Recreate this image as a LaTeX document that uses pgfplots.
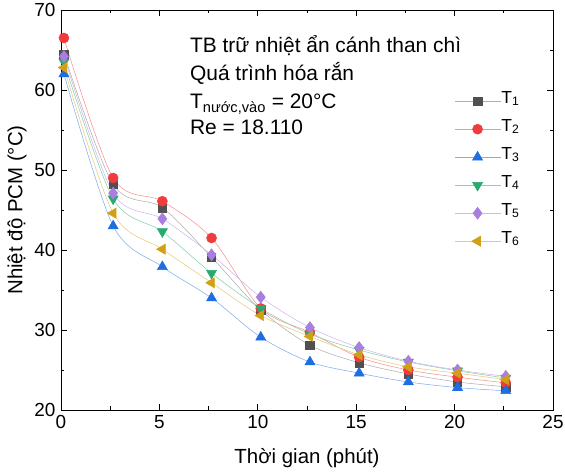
\documentclass[border=0pt]{standalone}
\usepackage{fontspec}
\setmainfont{Liberation Sans}
\usepackage{pgfplots}
\pgfplotsset{compat=1.18}
\definecolor{cA}{RGB}{80,80,80}
\definecolor{cB}{RGB}{240,60,60}
\definecolor{cC}{RGB}{30,110,225}
\definecolor{cD}{RGB}{40,170,110}
\definecolor{cE}{RGB}{170,125,225}
\definecolor{cF}{RGB}{210,160,20}

\begin{document}
\begin{tikzpicture}
\begin{axis}[
  name=ax,
  scale only axis, width=492bp, height=400bp,
  xmin=0, xmax=25, ymin=20, ymax=70,
  xtick={0,5,...,25}, ytick={20,30,...,70},
  minor xtick={2.5,7.5,...,22.5}, minor ytick={25,35,...,65},
  tick align=inside, major tick length=6bp, minor tick length=3.5bp,
  tick style={black, line width=0.8pt},
  axis line style={line width=0.9pt},
  xticklabel style={font=\fontsize{19}{22}\selectfont, yshift=-2bp},
  yticklabel style={font=\fontsize{19}{22}\selectfont, xshift=-2bp},
  /pgf/number format/assume math mode=true,
  xlabel={Thời gian (phút)}, ylabel={Nhiệt độ PCM (°C)},
  label style={font=\fontsize{20.5}{24}\selectfont},
  xlabel style={at={(axis description cs:0.5,-0.12)}, anchor=center},
  ylabel style={at={(axis description cs:-0.0894,0.5)}, anchor=center},
  legend style={at={(rel axis cs:0.80,0.8075)}, anchor=north west, draw=none, fill=none,
    font=\fontsize{17.5}{20}\selectfont, row sep=0pt, inner sep=0pt,
    nodes={inner sep=0pt, text height=16bp, text depth=12bp, xshift=6bp}},
  legend cell align=left,
  legend image code/.code={\draw[mark repeat=2,mark phase=2] plot coordinates {(0bp,0bp)(22.5bp,0bp)(46bp,0bp)};},
  every axis plot/.append style={smooth, line width=0.55pt},
  clip=false,
]
\addplot[color=cA!45, mark=square*, mark size=4.2bp, mark options={fill=cA, draw=cA}] coordinates {
(0.15,64.5) (2.65,48.2) (5.15,45.3) (7.65,39.1) (10.15,32.5) (12.65,28.1) (15.15,25.9) (17.65,24.5) (20.15,23.5) (22.6,22.9)};
\addlegendentry{T\textsubscript{1}}
\addplot[color=cB!55, mark=*, mark size=5bp, mark options={fill=cB, draw=cB}] coordinates {
(0.15,66.5) (2.65,49.0) (5.15,46.1) (7.65,41.5) (10.15,32.7) (12.65,29.7) (15.15,26.6) (17.65,25.0) (20.15,24.1) (22.6,23.4)};
\addlegendentry{T\textsubscript{2}}
\addplot[color=cC!55, mark=triangle*, mark size=5.8bp, mark options={fill=cC, draw=cC}] coordinates {
(0.15,62.0) (2.65,43.0) (5.15,37.9) (7.65,34.0) (10.15,29.1) (12.65,26.0) (15.15,24.6) (17.65,23.5) (20.15,22.8) (22.6,22.4)};
\addlegendentry{T\textsubscript{3}}
\addplot[color=cD!55, mark=triangle*, mark size=5.8bp, mark options={fill=cD, draw=cD, rotate=180}] coordinates {
(0.15,63.5) (2.65,46.4) (5.15,42.3) (7.65,37.1) (10.15,32.7) (12.65,29.5) (15.15,27.5) (17.65,26.0) (20.15,24.9) (22.6,24.0)};
\addlegendentry{T\textsubscript{4}}
\addplot[color=cE!55, mark=diamond*, mark size=6bp, mark options={fill=cE, draw=cE}] coordinates {
(0.15,64.2) (2.65,47.1) (5.15,43.9) (7.65,39.4) (10.15,34.1) (12.65,30.3) (15.15,27.8) (17.65,26.1) (20.15,25.0) (22.6,24.2)};
\addlegendentry{T\textsubscript{5}}
\addplot[color=cF!55, mark=triangle*, mark size=5.8bp, mark options={fill=cF, draw=cF, rotate=90}] coordinates {
(0.15,62.8) (2.65,44.6) (5.15,40.1) (7.65,35.9) (10.15,31.8) (12.65,29.2) (15.15,26.9) (17.65,25.4) (20.15,24.6) (22.6,23.8)};
\addlegendentry{T\textsubscript{6}}
\begin{scope}[every node/.style={anchor=base west, inner sep=0pt, font=\fontsize{21}{24}\selectfont}]
\node at (axis cs:6.55,64.625) {TB trữ nhiệt ẩn cánh than chì};
\node at (axis cs:6.55,61.125) {Quá trình hóa rắn};
\node at (axis cs:6.55,57.625) {T\textsubscript{nước,vào} = 20°C};
\node at (axis cs:6.55,54.375) {Re = 18.110};
\end{scope}
\end{axis}
\pgfresetboundingbox
\path ([shift={(-61bp,-63bp)}]ax.south west) rectangle ([shift={(12bp,10bp)}]ax.north east);
\end{tikzpicture}
\end{document}
